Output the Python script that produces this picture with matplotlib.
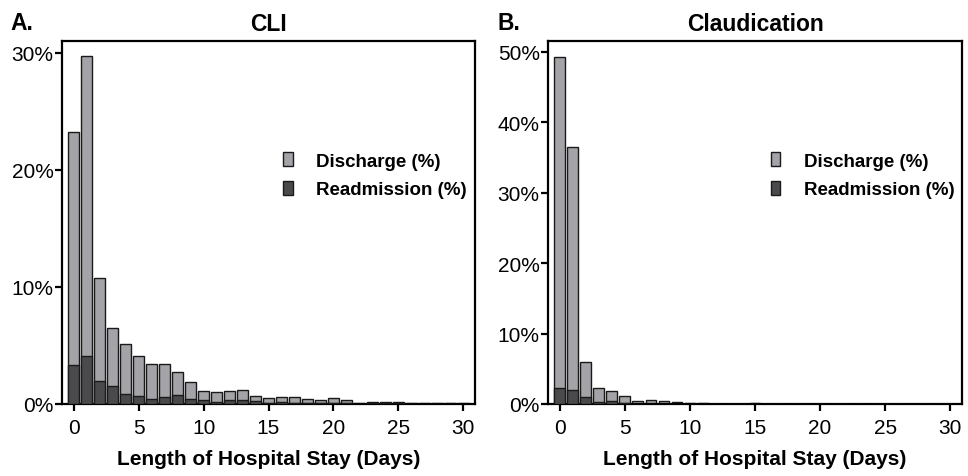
import matplotlib
matplotlib.use("Agg")
import matplotlib.pyplot as plt
from matplotlib.ticker import FuncFormatter

plt.rcParams['font.family'] = ['Liberation Sans', 'DejaVu Sans']

days = list(range(31))

# CLI panel (% of patients)
cli_discharge = [23.2, 29.7, 10.8, 6.5, 5.1, 4.1, 3.4, 3.4, 2.7, 1.9,
                 1.1, 1.0, 1.1, 1.2, 0.7, 0.5, 0.6, 0.6, 0.45, 0.35,
                 0.5, 0.35, 0.08, 0.2, 0.2, 0.2, 0.08, 0.08, 0.06, 0.08, 0.05]
cli_readmit = [3.3, 4.1, 2.0, 1.5, 0.85, 0.7, 0.45, 0.6, 0.8, 0.45,
               0.3, 0.15, 0.3, 0.35, 0.25, 0.1, 0.15, 0.1, 0.08, 0.08,
               0.1, 0.05, 0.02, 0.1, 0.08, 0.08, 0.02, 0.02, 0.02, 0.02, 0.02]

# Claudication panel (% of patients)
cla_discharge = [49.3, 36.4, 5.9, 2.3, 1.8, 1.1, 0.4, 0.55, 0.4, 0.3,
                 0.1, 0.15, 0.05, 0.05, 0.05, 0.15, 0.02, 0.02, 0.02, 0.02,
                 0.02, 0.02, 0.02, 0.02, 0.02, 0.02, 0.02, 0.02, 0.02, 0.02, 0.02]
cla_readmit = [2.3, 2.0, 1.0, 0.3, 0.4, 0.1, 0.05, 0.05, 0.05, 0.05,
               0.02, 0.02, 0.02, 0.02, 0.02, 0.05, 0.0, 0.0, 0.0, 0.0,
               0.0, 0.0, 0.0, 0.0, 0.0, 0.0, 0.0, 0.0, 0.0, 0.0, 0.0]

light = '#a3a3a8'
dark = '#4a4a4c'

fig = plt.figure(figsize=(9.68, 4.77), dpi=100)
W, H = 968, 477

def make_axes(x0, x1, y0, y1):
    return fig.add_axes([x0 / W, 1 - y1 / H, (x1 - x0) / W, (y1 - y0) / H])

ax1 = make_axes(62, 475, 42, 405)
ax2 = make_axes(548, 962, 42, 405)

panels = [
    (ax1, cli_discharge, cli_readmit, 'CLI', 31.0, [0, 10, 20, 30], 0.495),
    (ax2, cla_discharge, cla_readmit, 'Claudication', 51.5, [0, 10, 20, 30, 40, 50], 0.498),
]

for ax, dis, rea, title, ymax, yt, lx in panels:
    ax.bar(days, dis, width=0.82, color=light, edgecolor='#1a1a1a', linewidth=1.0,
           label='Discharge (%)', zorder=2)
    ax.bar(days, rea, width=0.82, color=dark, edgecolor='#1a1a1a', linewidth=1.0,
           label='Readmission (%)', zorder=3)
    ax.set_xlim(-0.9, 30.9)
    ax.set_ylim(0, ymax)
    ax.set_xticks([0, 5, 10, 15, 20, 25, 30])
    ax.set_yticks(yt)
    ax.yaxis.set_major_formatter(FuncFormatter(lambda v, p: f'{v:.0f}%'))
    for s in ax.spines.values():
        s.set_linewidth(1.6)
    ax.tick_params(direction='out', length=5, width=1.6, labelsize=15)
    ax.tick_params(axis='x', pad=5)
    ax.tick_params(axis='y', pad=1)
    ax.set_xlabel('Length of Hospital Stay (Days)', fontsize=15, fontweight='bold', labelpad=9)
    ax.set_title(title, fontsize=16.5, fontweight='bold', pad=8)
    ax.legend(loc='upper left', bbox_to_anchor=(lx, 0.74), frameon=False,
              prop={'weight': 'bold', 'size': 13.5},
              handlelength=0.5, handleheight=0.75, handletextpad=1.25,
              labelspacing=0.6)

fig.text(10 / W, 1 - 24 / H, 'A.', fontsize=16.5, fontweight='bold', va='center', ha='left')
fig.text(497 / W, 1 - 24 / H, 'B.', fontsize=16.5, fontweight='bold', va='center', ha='left')

fig.savefig('out.png', dpi=100)
